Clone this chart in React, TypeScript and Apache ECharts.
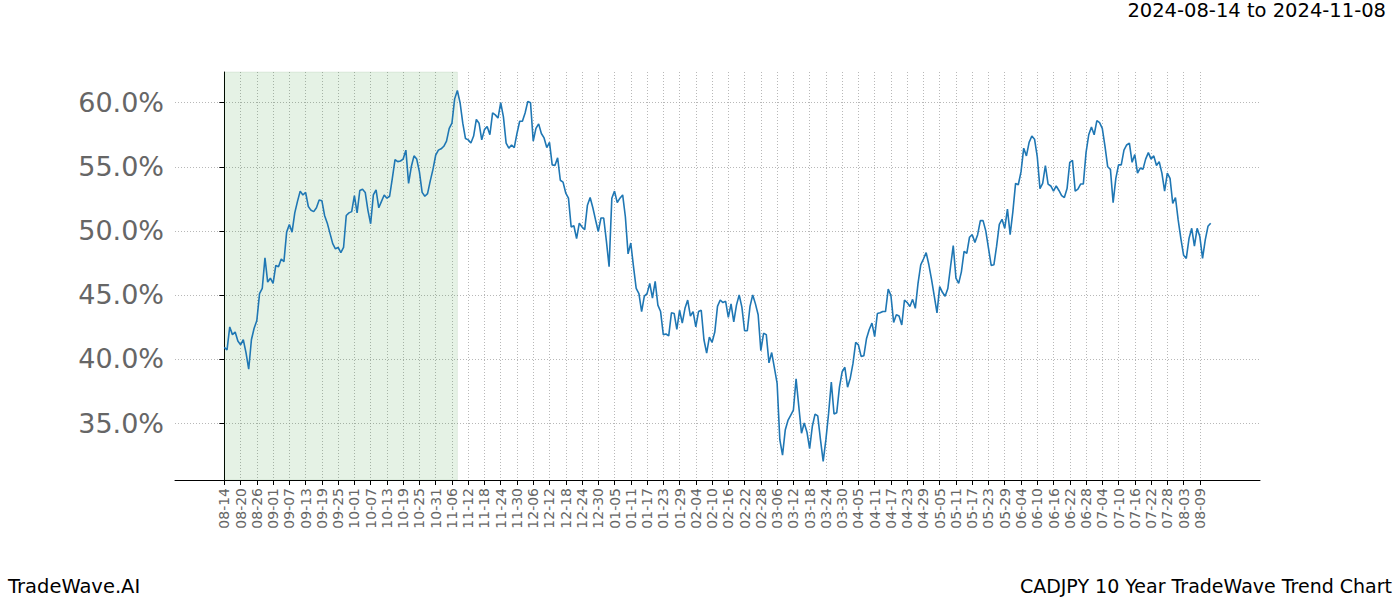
import React, { useEffect, useRef } from "react";
import * as echarts from "echarts";

const startDate = "2024-08-14";
const titleText = "2024-08-14 to 2024-11-08";
const leftFooter = "TradeWave.AI";
const rightFooter = "CADJPY 10 Year TradeWave Trend Chart";

// daily values (percent), day 0 = 2024-08-14
const values = [
  40.9, 40.7, 42.5, 41.9, 42.1, 41.4, 41.1, 41.5, 40.5, 39.2,
  41.5, 42.4, 43.0, 45.1, 45.5, 47.9, 46.0, 46.3, 45.9, 47.3,
  47.2, 47.8, 47.6, 49.9, 50.5, 49.9, 51.4, 52.3, 53.1, 52.8,
  53.0, 51.9, 51.6, 51.5, 51.8, 52.4, 52.35, 51.2, 50.6, 49.8,
  49.0, 48.6, 48.7, 48.3, 48.7, 51.2, 51.4, 51.5, 52.75, 51.4,
  53.15, 53.25, 53.0, 51.6, 50.55, 52.8, 53.2, 51.8, 52.3, 52.8,
  52.55, 52.7, 54.1, 55.55, 55.4, 55.45, 55.6, 56.3, 53.7, 55.0,
  55.85, 55.6, 54.6, 53.0, 52.7, 52.9, 53.9, 54.8, 55.9, 56.3,
  56.4, 56.6, 57.0, 58.0, 58.4, 60.3, 60.95, 60.0, 58.4, 57.2,
  57.1, 56.85, 57.4, 58.7, 58.4, 57.1, 57.9, 58.15, 57.5, 59.2,
  59.05, 58.8, 60.0, 58.9, 56.85, 56.45, 56.7, 56.5, 57.6, 58.55,
  58.55, 59.2, 60.1, 60.0, 57.0, 58.0, 58.35, 57.6, 57.25, 56.5,
  56.9, 55.15, 55.1, 55.7, 53.95, 53.8, 52.95, 52.55, 50.3, 50.4,
  49.4, 50.6, 50.3, 50.1, 52.0, 52.6, 51.8, 50.85, 49.95, 51.0,
  51.0, 49.2, 47.2, 52.55, 53.1, 52.2, 52.55, 52.8, 51.1, 48.2,
  49.05, 47.2, 45.5, 45.1, 43.7, 44.9, 45.1, 45.9, 44.75, 46.05,
  44.2, 43.7, 41.9, 41.95, 41.8, 43.6, 43.55, 42.3, 43.8, 42.8,
  43.95, 44.6, 43.35, 43.7, 42.5, 43.7, 43.8, 41.5, 40.45, 41.7,
  41.3, 42.1, 44.1, 44.6, 44.4, 44.5, 43.25, 44.3, 42.9, 44.2,
  45.0, 44.05, 42.2, 42.2, 44.1, 45.0, 44.3, 43.45, 40.65, 42.0,
  41.9, 39.7, 40.5, 39.3, 38.1, 33.7, 32.5, 34.45, 35.2, 35.6,
  36.0, 38.45, 36.3, 34.2, 35.0, 34.3, 33.0, 34.75, 35.7, 35.55,
  33.7, 32.0, 33.7, 35.75, 38.2, 35.7, 35.8, 37.8, 39.0, 39.35,
  37.8, 38.5, 39.65, 41.3, 41.1, 40.2, 40.25, 41.6, 42.3, 42.8,
  41.75, 43.55, 43.6, 43.7, 43.7, 45.45, 44.95, 42.85, 43.45, 43.35,
  42.65, 44.6, 44.4, 44.1, 44.65, 43.95, 45.9, 47.35, 47.8, 48.3,
  47.35, 46.2, 44.9, 43.6, 45.65, 45.2, 44.9, 45.5, 47.2, 48.85,
  46.3, 45.9, 46.8, 48.4, 48.25, 49.5, 49.7, 49.1, 49.7, 50.8,
  50.8, 50.0, 48.65, 47.3, 47.35, 48.8, 50.5, 50.9, 50.2, 51.7,
  49.7, 51.5, 53.7, 53.6, 54.6, 56.45, 55.85, 56.9, 57.4, 57.15,
  55.8, 53.3, 53.7, 55.1, 53.65, 53.5, 53.1, 53.5, 53.15, 52.75,
  52.6, 53.3, 55.35, 55.5, 53.1, 53.25, 53.65, 53.65, 56.1, 57.5,
  58.1, 57.5, 58.6, 58.45, 58.0, 56.6, 55.0, 54.8, 52.2, 54.1,
  55.15, 55.15, 56.3, 56.7, 56.85, 55.35, 55.95, 54.5, 54.9, 54.8,
  55.6, 56.1, 55.6, 55.85, 55.1, 55.4, 54.5, 53.1, 54.5, 54.1,
  52.15, 52.6, 50.85, 49.4, 48.1, 47.85, 49.4, 50.2, 48.8, 50.2,
  49.55, 47.85, 49.3, 50.35, 50.6,
];

const yTicks = [35, 40, 45, 50, 55, 60];
const highlightRange = [0, 86]; // 2024-08-14 .. 2024-11-08 (day offsets)
const tickStepDays = 6;
const lastTickDay = 360;

const tickDays: number[] = [];
for (let d = 0; d <= lastTickDay; d += tickStepDays) tickDays.push(d);

const startMs = Date.UTC(
  Number(startDate.slice(0, 4)),
  Number(startDate.slice(5, 7)) - 1,
  Number(startDate.slice(8, 10))
);
function dayLabel(d: number): string {
  const dt = new Date(startMs + Math.round(d) * 86400000);
  const m = String(dt.getUTCMonth() + 1).padStart(2, "0");
  const dd = String(dt.getUTCDate()).padStart(2, "0");
  return `${m}-${dd}`;
}

const FONT = "DejaVu Sans";

export default function App() {
  const ref = useRef<HTMLDivElement>(null);
  useEffect(() => {
    if (!ref.current) return;
    const chart = echarts.init(ref.current, null, { renderer: "svg" });
    const n = values.length;
    const xMin = -(n - 1) * 0.05;
    const xMax = (n - 1) * 1.05;
    const dMin = Math.min(...values);
    const dMax = Math.max(...values);
    const yPad = (dMax - dMin) * 0.05;
    chart.setOption({
      animation: false,
      backgroundColor: "#ffffff",
      grid: { left: 175, right: 140, top: 72, bottom: 120, containLabel: false },
      xAxis: {
        type: "value",
        min: xMin,
        max: xMax,
        axisLine: { show: true, onZero: false, lineStyle: { color: "#000", width: 1 } },
        axisTick: { show: true, customValues: tickDays, length: 5, lineStyle: { color: "#000", width: 1 } },
        axisLabel: {
          customValues: tickDays,
          rotate: 90,
          formatter: (v: number) => dayLabel(v),
          color: "#666666",
          fontSize: 14,
          fontFamily: FONT,
          margin: 8,
        },
        splitLine: { show: true, lineStyle: { type: [1, 2], color: "#9a9a9a", width: 0.7 } },
      },
      yAxis: {
        type: "value",
        min: dMin - yPad,
        max: dMax + yPad,
        axisLine: { show: true, lineStyle: { color: "#000", width: 1 } },
        axisTick: { show: true, customValues: yTicks, length: 5, lineStyle: { color: "#000", width: 1 } },
        axisLabel: {
          customValues: yTicks,
          formatter: (v: number) => v.toFixed(1) + "%",
          color: "#666666",
          fontSize: 27,
          fontFamily: FONT,
          margin: 11,
        },
        splitLine: { show: true, lineStyle: { type: [1, 2], color: "#9a9a9a", width: 0.7 } },
      },
      series: [
        {
          type: "line",
          data: values.map((v, i) => [i, v]),
          showSymbol: false,
          symbol: "none",
          lineStyle: { color: "#1f77b4", width: 1.6 },
          z: 3,
          markArea: {
            silent: true,
            itemStyle: {
              color: "rgba(0,128,0,0.1)",
              borderColor: "rgba(0,90,0,0.08)",
              borderWidth: 1,
            },
            data: [[{ xAxis: highlightRange[0] }, { xAxis: highlightRange[1] }]],
          },
        },
      ],
      graphic: [
        {
          type: "text",
          right: 14,
          top: 0,
          style: { text: titleText, font: `19.5px '${FONT}'`, fill: "#000" },
        },
        {
          type: "text",
          left: 8,
          top: 576,
          style: { text: leftFooter, font: `19.5px '${FONT}'`, fill: "#000" },
        },
        {
          type: "text",
          right: 8,
          top: 576,
          style: { text: rightFooter, font: `19px '${FONT}'`, fill: "#000" },
        },
      ],
    });
    return () => chart.dispose();
  }, []);
  return (
    <div
      ref={ref}
      style={{ position: "fixed", left: 0, top: 0, width: 1400, height: 600, background: "#fff" }}
    />
  );
}
